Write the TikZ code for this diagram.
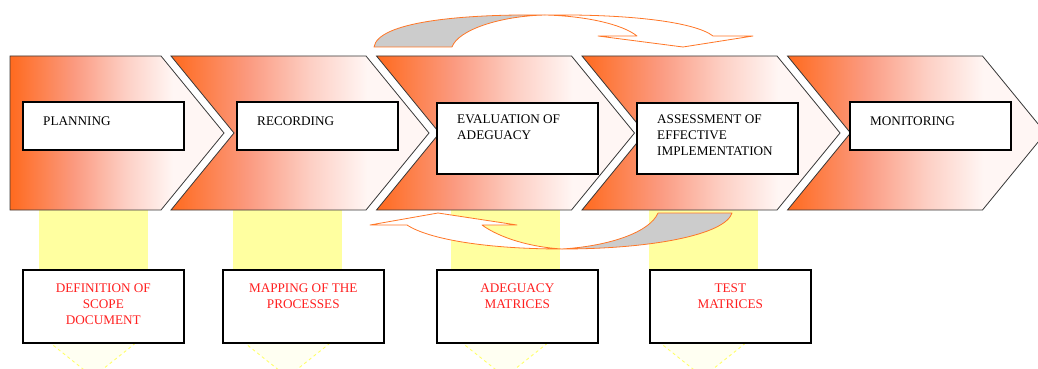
\documentclass[tikz,border=0pt]{standalone}
\usepackage{fontspec}
\setmainfont{Liberation Serif}
\usepackage{tikz}
\usetikzlibrary{calc}
\definecolor{chevor}{HTML}{FF6A1E}
\definecolor{chevmid}{HTML}{FB9A80}
\definecolor{chevpale}{HTML}{FDCFC4}
\definecolor{chevwhite}{HTML}{FFF6F4}
\definecolor{chevline}{HTML}{383838}
\definecolor{hl}{HTML}{FFFFA0}
\definecolor{hlline}{HTML}{FFFF66}
\definecolor{hlpale}{HTML}{FFFFF2}
\definecolor{looporange}{HTML}{FF7626}
\definecolor{loopgray}{HTML}{CCCCCC}
\definecolor{doctext}{HTML}{FF2020}
\pgfdeclarehorizontalshading{chevfade}{100bp}{color(0bp)=(chevor); color(25bp)=(chevor); color(40bp)=(chevmid); color(52bp)=(chevpale); color(63bp)=(chevwhite); color(100bp)=(chevwhite)}
\tikzset{
  chev/.style={draw=chevline, line width=0.8pt, line join=miter, shade, shading=chevfade},
  body/.style={fill=hl},
  head/.style={draw=hlline, fill=hlpale, dashed, line width=0.9pt},
  stage/.style={rectangle, draw=black, line width=1.6pt, fill=white, anchor=north west, minimum width=161pt, minimum height=48pt, inner sep=0pt},
  tall/.style={stage, minimum height=71pt},
  doc/.style={stage, minimum height=73pt},
  lab/.style={anchor=north west, inner sep=0pt, align=left, font=\fontsize{13.2}{16}\selectfont},
  labr/.style={anchor=north, inner sep=0pt, align=center, text=doctext, font=\fontsize{13.2}{16}\selectfont},
  loopback/.style={draw=looporange, fill=loopgray, line width=0.8pt, line join=round},
  loopfront/.style={draw=looporange, fill=white, line width=0.8pt, line join=round}
}

\begin{document}
\begin{tikzpicture}[x=1pt,y=-1pt]
  \useasboundingbox (0,0) rectangle (1038,369);
  \foreach \c in {93,287.5,505,703}{
    \fill[body] (\c-54.5,205) rectangle (\c+54.5,300);
    \filldraw[head] (\c-49,338) -- (\c,377) -- (\c+49,338) -- cycle;
  }
  \draw[chev] (10,56) -- (161,56) -- (224,133) -- (161,210) -- (10,210) -- cycle;
  \foreach \x in {171,376.5,582,787.5}{
    \draw[chev] (\x,56) -- ++(195,0) -- ++(63,77) -- ++(-63,77) -- ++(-195,0) -- ++(63,-77) -- cycle;
  }

  \node[stage] (plan) at (22,101) {};
  \node[stage] (rec) at (236,101) {};
  \node[tall] (eval) at (436,102) {};
  \node[tall] (assess) at (636,102) {};
  \node[stage] (mon) at (849,101) {};
  \node[lab] (plantxt) at ($(plan.north west)+(21,15.5)$) {PLANNING};
  \node[lab] (rectxt) at ($(rec.north west)+(21,15.5)$) {RECORDING};
  \node[lab] (evaltxt) at ($(eval.north west)+(21,12.5)$) {EVALUATION OF\\ADEGUACY};
  \node[lab] (assesstxt) at ($(assess.north west)+(21,12.5)$) {ASSESSMENT OF\\EFFECTIVE\\IMPLEMENTATION};
  \node[lab] (montxt) at ($(mon.north west)+(21,15.5)$) {MONITORING};

  \node[doc] (scope) at (22,269) {};
  \node[doc] (maps) at (222,269) {};
  \node[doc] (adeq) at (436,269) {};
  \node[doc] (tests) at (649,269) {};
  \node[labr] (scopetxt) at ($(scope.north)+(0,14.5)$) {DEFINITION OF\\SCOPE\\DOCUMENT};
  \node[labr] (mapstxt) at ($(maps.north)+(0,14.5)$) {MAPPING OF THE\\PROCESSES};
  \node[labr] (adeqtxt) at ($(adeq.north)+(0,14.5)$) {ADEGUACY\\MATRICES};
  \node[labr] (teststxt) at ($(tests.north)+(0,14.5)$) {TEST\\MATRICES};

  \coordinate (topx) at (545,15);
  \draw[loopback] (374,47) .. controls (378,22) and (460,14) .. (topx) .. controls (500,16) and (458,30) .. (452,47) -- cycle;
  \draw[loopfront] (topx) .. controls (630,14) and (695,22) .. (713,36) -- (753,36) -- (683,47) -- (598,36) -- (637,36) .. controls (622,24) and (585,16) .. (topx) -- cycle;
  \coordinate (botx) at (562,249);
  \draw[loopback] (botx) .. controls (650,249) and (725,235) .. (732,213) -- (658,213) .. controls (650,232) and (610,246) .. (botx) -- cycle;
  \draw[loopfront] (botx) .. controls (490,249) and (430,240) .. (407,225) -- (370,225) -- (438,213) -- (517,225) -- (482,225) .. controls (500,238) and (530,247) .. (botx) -- cycle;
\end{tikzpicture}
\end{document}
